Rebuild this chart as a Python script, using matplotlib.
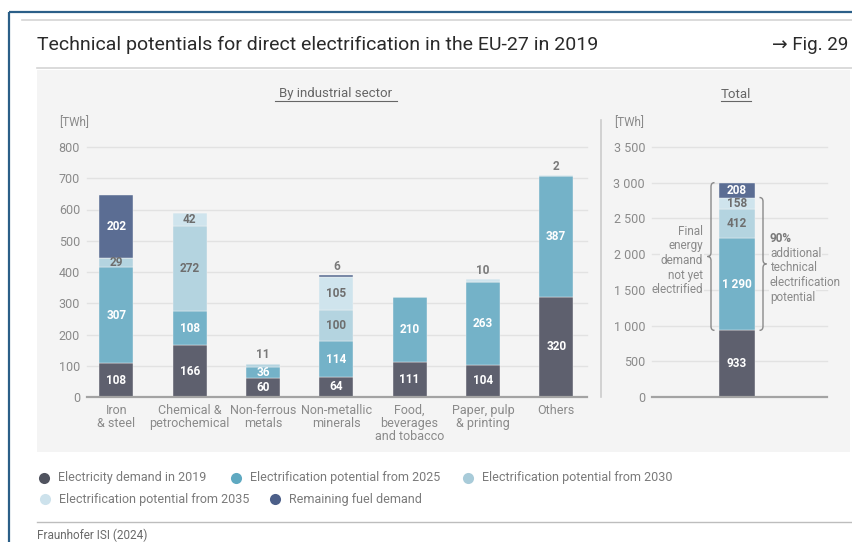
import matplotlib
matplotlib.use("Agg")
import matplotlib.pyplot as plt
from matplotlib.path import Path
from matplotlib.patches import PathPatch, Rectangle
import numpy as np

plt.rcParams['font.family'] = ['Roboto', 'DejaVu Sans']

# ---------------- data ----------------
categories = ["Iron\n& steel", "Chemical &\npetrochemical", "Non-ferrous\nmetals",
              "Non-metallic\nminerals", "Food,\nbeverages\nand tobacco",
              "Paper, pulp\n& printing", "Others"]
elec_2019 = [108, 166, 60, 64, 111, 104, 320]
pot_2025 = [307, 108, 36, 114, 210, 263, 387]
pot_2030 = [29, 272, 11, 100, 0, 0, 0]
pot_2035 = [0, 42, 0, 105, 0, 10, 2]
remaining = [202, 0, 0, 6, 0, 0, 0]

total_values = [933, 1290, 412, 158, 208]
total_labels = ["933", "1 290", "412", "158", "208"]

series_names = ["Electricity demand in 2019", "Electrification potential from 2025",
                "Electrification potential from 2030", "Electrification potential from 2035",
                "Remaining fuel demand"]
left_ticks = [0, 100, 200, 300, 400, 500, 600, 700, 800]
right_ticks = [0, 500, 1000, 1500, 2000, 2500, 3000, 3500]
right_ticklabels = ["0", "500", "1 000", "1 500", "2 000", "2 500", "3 000", "3 500"]

bar_colors = ["#5e606e", "#74b2c8", "#b4d4e0", "#cfe4ed", "#5b6d93"]
legend_colors = ["#50535f", "#5fa9c1", "#a8cbd9", "#cde2ec", "#4c5f89"]
label_colors = ["white", "white", "#6e6e6e", "#6e6e6e", "white"]

W, H = 853, 542
PANEL = "#f4f4f4"
fig = plt.figure(figsize=(W / 100, H / 100), dpi=100)
fig.patch.set_facecolor("white")

ov = fig.add_axes([0, 0, 1, 1])
ov.set_xlim(0, W)
ov.set_ylim(H, 0)
ov.axis("off")


def px_axes(x0, y0, x1, y1):
    a = fig.add_axes([x0 / W, 1 - y1 / H, (x1 - x0) / W, (y1 - y0) / H])
    a.set_facecolor("none")
    for s in a.spines.values():
        s.set_visible(False)
    return a


# frame and header
ov.plot([9, W], [12, 12], color="#2b5f88", lw=1.6, solid_capstyle="butt")
ov.plot([9, 9], [12, H], color="#2b5f88", lw=1.6, solid_capstyle="butt")
ov.plot([22, W], [20, 20], color="#d4d4d4", lw=1.2)
ov.text(37, 45, "Technical potentials for direct electrification in the EU-27 in 2019",
        fontsize=14, color="#2a2a2a", va="center", ha="left")
ov.text(848, 45, "\u2192 Fig. 29", fontsize=13.5, color="#2a2a2a", va="center", ha="right")
ov.plot([37, W], [68, 68], color="#d4d4d4", lw=1.2)
ov.add_patch(Rectangle((37, 70), 813, 382, facecolor=PANEL, edgecolor="none"))

# section titles
for cx, txt, w in [(336, "By industrial sector", 122), (736, "Total", 30)]:
    ov.text(cx, 94, txt, fontsize=9.5, color="#666666", ha="center", va="center")
    ov.plot([cx - w / 2, cx + w / 2], [101, 101], color="#666666", lw=0.8)

# separator
ov.plot([601, 601], [120, 397], color="#cccccc", lw=1.2)
ov.text(59, 123, "[TWh]", fontsize=8.5, color="#8a8a8a", ha="left", va="center")
ov.text(614, 123, "[TWh]", fontsize=8.5, color="#8a8a8a", ha="left", va="center")

# ---------------- left chart ----------------
ax1 = px_axes(87, 147, 587, 397)
ax1.set_xlim(-0.4, 6.42)
ax1.set_ylim(0, 800)
x = np.arange(len(categories))
series = [elec_2019, pot_2025, pot_2030, pot_2035, remaining]
for t in left_ticks[1:]:
    ax1.axhline(t, color="#e2e2e2", lw=1.0, zorder=0, clip_on=False)
ax1.axhline(0, color="#a3a3a3", lw=1.6, zorder=3, clip_on=False)
bottom = np.zeros(len(categories))
bw = 0.465
for si, vals in enumerate(series):
    vals = np.array(vals, dtype=float)
    ax1.bar(x, vals, bw, bottom=bottom, color=bar_colors[si], zorder=2,
            edgecolor=PANEL, linewidth=0.3)
    for i, v in enumerate(vals):
        if v <= 0:
            continue
        if v >= 20:
            ax1.text(x[i], bottom[i] + v / 2, f"{int(v)}", ha="center", va="center",
                     fontsize=8.5, fontweight="bold", color=label_colors[si], zorder=4)
    bottom += vals
# small values above bars
for i in range(len(categories)):
    small = [s[i] for s in series if 0 < s[i] < 20]
    if small:
        ax1.text(x[i], bottom[i] + 8, f"{int(small[-1])}", ha="center", va="bottom",
                 fontsize=8.5, fontweight="bold", color="#7a7a7a", zorder=4)
ax1.set_yticks(left_ticks)
ax1.set_yticklabels([str(t) for t in left_ticks])
ax1.set_xticks(x)
ax1.set_xticklabels(categories, linespacing=1.0)
ax1.tick_params(axis="both", length=0, colors="#8a8a8a", labelsize=9)
ax1.tick_params(axis="y", pad=5)
ax1.tick_params(axis="x", pad=5)

# ---------------- right chart ----------------
ax2 = px_axes(652, 147, 827, 397)
ax2.set_xlim(-0.97, 1.03)
ax2.set_ylim(0, 3500)
for t in right_ticks[1:]:
    ax2.axhline(t, color="#e2e2e2", lw=1.0, zorder=0, clip_on=False)
ax2.axhline(0, color="#a3a3a3", lw=1.6, zorder=3, clip_on=False)
b = 0.0
for si, v in enumerate(total_values):
    ax2.bar([0], [v], 0.41, bottom=b, color=bar_colors[si], zorder=2,
            edgecolor=PANEL, linewidth=0.3)
    ax2.text(0, b + v / 2, total_labels[si], ha="center", va="center", fontsize=8.5,
             fontweight="bold", color=label_colors[si], zorder=4)
    b += v
ax2.set_yticks(right_ticks)
ax2.set_yticklabels(right_ticklabels)
ax2.set_xticks([])
ax2.tick_params(axis="both", length=0, colors="#8a8a8a", labelsize=9)
ax2.tick_params(axis="y", pad=5)


def y2px(v):
    return 397 - v / 3500 * 250


# annotation overlay (on top of the right chart so that text hides the grid)
ann = fig.add_axes([0, 0, 1, 1])
ann.set_xlim(0, W)
ann.set_ylim(H, 0)
ann.axis("off")


def brace(xp, ytop, ybot, d, w=3.5, r=4):
    ymid = (ytop + ybot) / 2
    verts = [(xp - d * w, ytop), (xp, ytop), (xp, ytop + r),
             (xp, ymid - r), (xp, ymid), (xp + d * w, ymid),
             (xp, ymid), (xp, ymid + r),
             (xp, ybot - r), (xp, ybot), (xp - d * w, ybot)]
    codes = [Path.MOVETO, Path.CURVE3, Path.CURVE3,
             Path.LINETO, Path.CURVE3, Path.CURVE3,
             Path.CURVE3, Path.CURVE3,
             Path.LINETO, Path.CURVE3, Path.CURVE3]
    ann.add_patch(PathPatch(Path(verts, codes), facecolor="none", edgecolor="#8a8a8a",
                            lw=1.0, zorder=5))


total_top = sum(total_values)
elec_top = total_values[0]
potential_top = sum(total_values[:4])
brace(711, y2px(total_top), y2px(elec_top), -1)
brace(763, y2px(potential_top), y2px(elec_top), +1)
bb = dict(facecolor=PANEL, edgecolor="none", pad=0.5)
left_lines = ["Final", "energy", "demand", "not yet", "electrified"]
ly0 = (y2px(total_top) + y2px(elec_top)) / 2 + 4 - 2 * 14.5
for k, s in enumerate(left_lines):
    ann.text(703, ly0 + k * 14.5, s, ha="right", va="center", fontsize=8.5,
             color="#8a8a8a", bbox=bb)
right_lines = ["90%", "additional", "technical", "electrification", "potential"]
ry0 = (y2px(potential_top) + y2px(elec_top)) / 2 + 4 - 2 * 14.7
for k, s in enumerate(right_lines):
    ann.text(770, ry0 + k * 14.7, s, ha="left", va="center", fontsize=8.5,
             color="#7a7a7a" if k == 0 else "#8a8a8a",
             fontweight="bold" if k == 0 else "normal", bbox=bb)

# ---------------- legend ----------------
legend_pos = [(44, 478), (236, 478), (468, 478), (45, 499), (275, 499)]
for (lx, ly), name, c in zip(legend_pos, series_names, legend_colors):
    ov.plot([lx], [ly], "o", ms=8, color=c, mec="none")
    ov.text(lx + 14, ly, name, fontsize=9, color="#7a7a7a", ha="left", va="center")

# footer
ov.plot([37, W], [522, 522], color="#bdbdbd", lw=1.0)
ov.text(37, 535, "Fraunhofer ISI (2024)", fontsize=8.5, color="#6a6a6a", ha="left",
        va="center")

fig.savefig("out.png", dpi=100)
